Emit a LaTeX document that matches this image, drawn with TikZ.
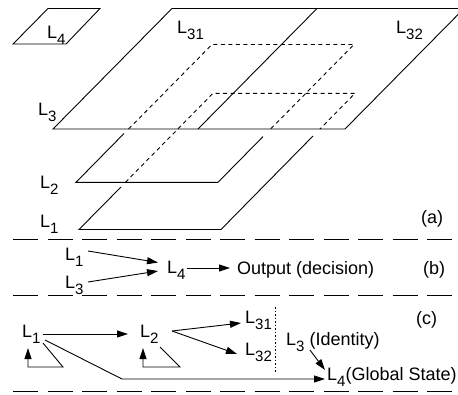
\documentclass[tikz,border=0pt]{standalone}
\usepackage{fontspec}
\setmainfont{Liberation Sans}
\usetikzlibrary{arrows.meta}
\newcommand\Lsub[1]{L\raisebox{-6pt}{\fontsize{15}{15}\selectfont #1}}
\begin{document}
\begin{tikzpicture}[x=1pt,y=-1pt, font=\fontsize{18}{20}\selectfont,
  plane/.style={line width=0.9pt},
  hidden/.style={line width=0.9pt, dash pattern=on 4pt off 3.5pt},
  sepline/.style={line width=1.3pt, dash pattern=on 25pt off 9.5pt},
  lab/.style={inner sep=0pt, anchor=base west},
  arr/.style={line width=0.9pt, -{Triangle[length=11pt,width=7pt]}},
  dotline/.style={line width=0.8pt, dash pattern=on 1.5pt off 2pt}]
\useasboundingbox (0,0) rectangle (458,394);
% ---------- (a) planes ----------
\begin{scope}
\clip (0,0) rectangle (458,394);
\draw[plane] (13,44) -- (66,44) -- (100,8.5) -- (48,8.5) -- cycle;
\draw[plane] (53,129) -- (345,129) -- (464,8.5) -- (172,8.5) -- cycle;
\draw[plane] (198,129) -- (317,8.5);
\draw[plane] (124,133.5) -- (76,182.3) -- (218,182.3) -- (263,136.6);
\draw[hidden] (128.6,129) -- (212,44.5) -- (354,44.5) -- (270.6,129);
\draw[plane] (121,187) -- (79,229.5) -- (221,229.5) -- (313,136);
\draw[hidden] (125.4,182.3) -- (213,93.3) -- (355,93.3) -- (320,129);
\end{scope}
\node[lab] (t4) at (47,38) {\Lsub{4}};
\node[lab] (t31) at (177,33) {\Lsub{31}};
\node[lab] (t32) at (396,33) {\Lsub{32}};
\node[lab] (t3) at (38,115) {\Lsub{3}};
\node[lab] (t2) at (40,188) {\Lsub{2}};
\node[lab] (t1) at (40,227) {\Lsub{1}};
\node[lab] (ta) at (421,223) {(a)};
% ---------- separators ----------
\draw[sepline] (13,239.3) -- (452,239.3);
\draw[sepline] (13,295.3) -- (452,295.3);
\draw[sepline] (13,391.5) -- (452,391.5);
% ---------- (b) ----------
\node[lab] (b1) at (65,260) {\Lsub{1}};
\node[lab] (b3) at (65,288) {\Lsub{3}};
\node[lab] (b4) at (167,273) {\Lsub{4}};
\node[lab] (bout) at (237,274) {Output (decision)};
\node[lab] (tb) at (423,274) {(b)};
\coordinate (b1s) at (88,251);
\coordinate (b4a) at (158,262.5);
\coordinate (b3s) at (88,282);
\coordinate (b4b) at (158,271);
\coordinate (b4s) at (187,268);
\coordinate (outw) at (230,268);
\draw[arr] (b1s) -- (b4a);
\draw[arr] (b3s) -- (b4b);
\draw[arr] (b4s) -- (outw);
% ---------- (c) ----------
\node[lab] (c1) at (22,337) {\Lsub{1}};
\node[lab] (c2) at (140,337) {\Lsub{2}};
\node[lab] (c31) at (245,323) {\Lsub{31}};
\node[lab] (c32) at (245,355) {\Lsub{32}};
\node[lab] (c3) at (286,345) {\Lsub{3} (Identity)};
\node[lab] (c4) at (327,380) {\Lsub{4}(Global State)};
\node[lab] (tc) at (416,324) {(c)};
\coordinate (c1a) at (43,334);
\coordinate (c2a) at (128,334);
\coordinate (c1l) at (43,343);
\coordinate (c1r) at (28,348);
\coordinate (c1d) at (45,340);
\coordinate (c4a) at (325,379);
\coordinate (c2l) at (160,347);
\coordinate (c2r) at (143,348);
\coordinate (c2s) at (172,331);
\coordinate (c31a) at (241,323);
\coordinate (c32a) at (237,354);
\coordinate (dtop) at (275,307);
\coordinate (dbot) at (275,372);
\coordinate (c3s) at (310,350);
\coordinate (c4b) at (325,370);
\draw[arr] (c1a) -- (c2a);
\draw[arr] (c1l) -- (63,367) -- (28,367) -- (c1r);
\draw[arr] (c1d) -- (122,379) -- (c4a);
\draw[arr] (c2l) -- (180,367) -- (143,367) -- (c2r);
\draw[arr] (c2s) -- (c31a);
\draw[arr] (c2s) -- (c32a);
\draw[dotline] (dtop) -- (dbot);
\draw[arr] (c3s) -- (c4b);
\end{tikzpicture}
\end{document}
